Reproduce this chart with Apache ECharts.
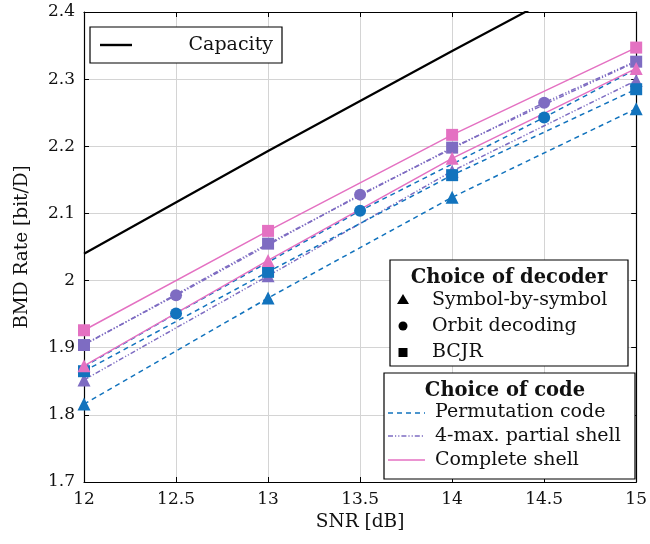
<!DOCTYPE html>
<html>
<head>
<meta charset="utf-8">
<script src="https://cdn.jsdelivr.net/npm/echarts@6/dist/echarts.min.js"></script>
<style>
  html, body { margin: 0; padding: 0; background: #fff; }
  #chart { width: 650px; height: 544px; }
</style>
</head>
<body>
<div id="chart"></div>
<script>
// SNR grid points [dB]
const snrInt = [12, 13, 14, 15]
const snrOrbit = [12, 12.5, 13.5, 14.5, 15]

// Capacity
const capacity = [2.040, 2.193, 2.342, 2.488]

// Permutation code (blue, dashed)
const permSymbol = [1.816, 1.974, 2.124, 2.256]
const permOrbit = [1.872, 1.951, 2.104, 2.243, 2.315]
const permBcjr = [1.865, 2.013, 2.157, 2.285]

// 4-max. partial shell (purple, dash-dot)
const partSymbol = [1.852, 2.007, 2.163, 2.298]
const partOrbit = [1.905, 1.978, 2.128, 2.265, 2.327]
const partBcjr = [1.904, 2.055, 2.198, 2.326]

// Complete shell (pink, solid)
const compSymbol = [1.873, 2.030, 2.182, 2.316]
const compBcjr = [1.926, 2.074, 2.217, 2.347]

const FONT = 'DejaVu Serif'
const BLUE = '#1273bd'
const PURPLE = '#7e6cc2'
const PINK = '#e471c2'
const DASH = [5, 4]
const DASHDOT = [5, 2, 1.2, 2, 1.2, 2]

const pairs = (xs, ys) => xs.map((x, i) => [x, ys[i]])
// orbit curves: circles only on the half-dB points, ends hidden under the other marks
const orbitData = ys => snrOrbit.map((x, i) => {
  const end = i === 0 || i === snrOrbit.length - 1
  return end ? { value: [x, ys[i]], symbol: 'none' } : [x, ys[i]]
})

function curve(name, data, color, dash, symbol, size) {
  return {
    name, type: 'line', data,
    symbol, symbolSize: size,
    showAllSymbol: true,
    lineStyle: { color, width: 1.5, type: dash },
    itemStyle: { color, borderWidth: 0 },
    emphasis: { disabled: true },
    animation: false,
  }
}

const series = [
  {
    name: 'Capacity', type: 'line', data: pairs(snrInt, capacity),
    symbol: 'none', lineStyle: { color: '#000', width: 2.2 }, animation: false, clip: true,
  },
  curve('part-sym', pairs(snrInt, partSymbol), PURPLE, DASHDOT, 'triangle', 13),
  curve('part-orb', orbitData(partOrbit), PURPLE, DASHDOT, 'circle', 12),
  curve('part-bcjr', pairs(snrInt, partBcjr), PURPLE, DASHDOT, 'rect', 12),
  curve('perm-sym', pairs(snrInt, permSymbol), BLUE, DASH, 'triangle', 13),
  curve('perm-orb', orbitData(permOrbit), BLUE, DASH, 'circle', 12),
  curve('perm-bcjr', pairs(snrInt, permBcjr), BLUE, DASH, 'rect', 12),
  curve('comp-sym', pairs(snrInt, compSymbol), PINK, 'solid', 'triangle', 13),
  curve('comp-bcjr', pairs(snrInt, compBcjr), PINK, 'solid', 'rect', 12),
]

const text = (x, y, s, opts = {}) => ({
  type: 'text', x, y, z: 100,
  style: Object.assign({ text: s, font: `19px "${FONT}"`, fill: '#111', verticalAlign: 'middle' }, opts),
})
const title = (x, y, s) => text(x, y, s, { font: `bold 19.5px "${FONT}"`, align: 'center' })
const box = (x, y, w, h) => ({
  type: 'rect', shape: { x, y, width: w, height: h }, z: 99,
  style: { fill: '#fff', stroke: '#000', lineWidth: 1.2 },
})
const seg = (x1, x2, y, color, dash, w) => ({
  type: 'line', z: 100, shape: { x1, y1: y, x2, y2: y },
  style: { stroke: color, lineWidth: w || 1.6, lineDash: dash },
})

const graphic = [
  // capacity legend
  box(90, 27, 192, 36),
  seg(100, 132, 45, '#000', null, 2.4),
  text(273, 45, 'Capacity', { align: 'right' }),
  // decoder legend
  box(390, 260, 238, 106),
  title(509, 278, 'Choice of decoder'),
  { type: 'polygon', z: 100, shape: { points: [[397, 304], [409, 304], [403, 294]] }, style: { fill: '#000' } },
  { type: 'circle', z: 100, shape: { cx: 403, cy: 326, r: 4.5 }, style: { fill: '#000' } },
  { type: 'rect', z: 100, shape: { x: 398.5, y: 348, width: 9, height: 9 }, style: { fill: '#000' } },
  text(432, 300, 'Symbol-by-symbol'),
  text(432, 326, 'Orbit decoding'),
  text(432, 352, 'BCJR'),
  // code legend
  box(384, 373, 251, 106),
  title(505, 391, 'Choice of code'),
  seg(388, 425, 413, BLUE, DASH),
  seg(388, 425, 436, PURPLE, DASHDOT),
  seg(388, 425, 460, PINK, null),
  text(435, 412, 'Permutation code'),
  text(435, 436, '4-max. partial shell'),
  text(435, 460, 'Complete shell'),
]

const axisLine = { show: true, onZero: false, lineStyle: { color: '#000', width: 1.2 } }
const tick = { show: true, inside: true, length: 5, lineStyle: { color: '#000' } }
const label = { color: '#111', fontFamily: FONT, fontSize: 17 }
const nameStyle = { color: '#111', fontFamily: FONT, fontSize: 18.5 }

const option = {
  animation: false,
  grid: { left: 84, right: 9, top: 12, bottom: 62 },
  xAxis: [
    {
      type: 'value', min: 12, max: 15, interval: 0.5,
      name: 'SNR [dB]', nameLocation: 'middle', nameGap: 31, nameTextStyle: nameStyle,
      axisLine, axisTick: tick, axisLabel: Object.assign({ margin: 9 }, label),
      splitLine: { show: true, lineStyle: { color: '#d4d4d4', width: 1 } },
    },
    {
      type: 'value', min: 12, max: 15, interval: 0.5, position: 'top',
      axisLine, axisTick: tick, axisLabel: { show: false }, splitLine: { show: false },
    },
  ],
  yAxis: [
    {
      type: 'value', min: 1.7, max: 2.4, interval: 0.1,
      name: 'BMD Rate [bit/D]', nameLocation: 'middle', nameGap: 52, nameTextStyle: nameStyle,
      axisLine, axisTick: tick, axisLabel: Object.assign({ margin: 9 }, label),
      splitLine: { show: true, lineStyle: { color: '#d4d4d4', width: 1 } },
    },
    {
      type: 'value', min: 1.7, max: 2.4, interval: 0.1, position: 'right',
      axisLine, axisTick: tick, axisLabel: { show: false }, splitLine: { show: false },
    },
  ],
  series,
  graphic,
}

const chart = echarts.init(document.getElementById('chart'))
chart.setOption(option)
</script>
</body>
</html>
